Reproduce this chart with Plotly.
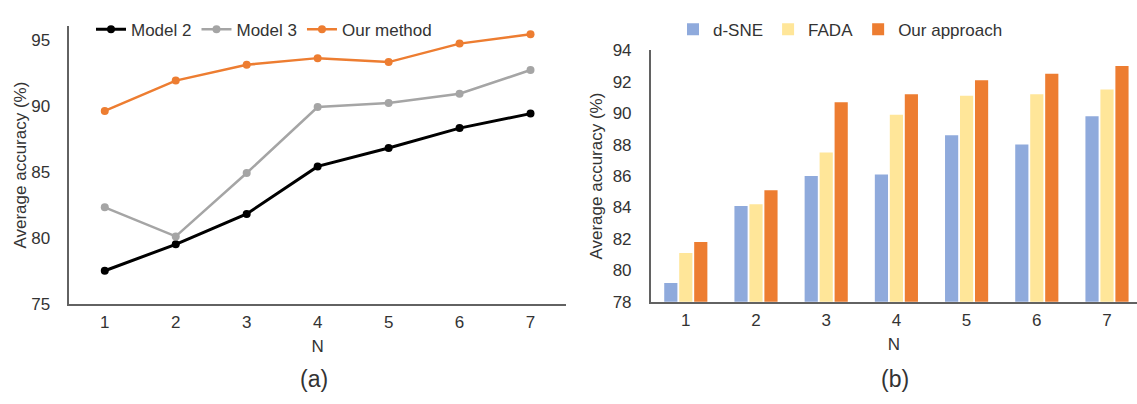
import plotly.graph_objects as go

# ---------- data ----------
N = [1, 2, 3, 4, 5, 6, 7]

model2 = [77.5, 79.5, 81.8, 85.4, 86.8, 88.3, 89.4]
model3 = [82.3, 80.1, 84.9, 89.9, 90.2, 90.9, 92.7]
our_method = [89.6, 91.9, 93.1, 93.6, 93.3, 94.7, 95.4]

dsne = [79.2, 84.1, 86.0, 86.1, 88.6, 88.0, 89.8]
fada = [81.1, 84.2, 87.5, 89.9, 91.1, 91.2, 91.5]
our_approach = [81.8, 85.1, 90.7, 91.2, 92.1, 92.5, 93.0]

left_yticks = [75, 80, 85, 90, 95]
right_yticks = [78, 80, 82, 84, 86, 88, 90, 92, 94]

W, H = 1137, 404
FONT = "Liberation Sans, Arial, sans-serif"
TXT = "#333333"
AX = "#626262"
FS = 17

fig = go.Figure()

# ---------- left: line chart ----------
for name, vals, col, lw in [("Model 2", model2, "#000000", 3),
                            ("Model 3", model3, "#A5A5A5", 2.5),
                            ("Our method", our_method, "#ED7D31", 2.5)]:
    fig.add_trace(go.Scatter(x=N, y=vals, name=name, mode="lines+markers",
                             line=dict(color=col, width=lw),
                             marker=dict(color=col, size=8),
                             xaxis="x", yaxis="y", legend="legend"))

# ---------- right: bar chart ----------
for name, vals, col in [("d-SNE", dsne, "#8FAADC"),
                        ("FADA", fada, "#FFE699"),
                        ("Our approach", our_approach, "#ED7D31")]:
    fig.add_trace(go.Bar(x=N, y=vals, name=name, marker=dict(color=col, line=dict(width=0)),
                         xaxis="x2", yaxis="y2", legend="legend2"))

def px_x(p):
    return p / W

def px_y(p):
    return (H - p) / H

axis_common = dict(showgrid=False, zeroline=False, showline=True, linecolor=AX,
                   linewidth=1.5, ticks="", tickfont=dict(family=FONT, size=FS, color=TXT),
                   title_font=dict(family=FONT, size=FS, color=TXT))

fig.update_layout(
    width=W, height=H,
    margin=dict(l=0, r=0, t=0, b=0),
    paper_bgcolor="white", plot_bgcolor="white",
    font=dict(family=FONT, color=TXT),
    barmode="group", bargap=0.36, bargroupgap=0.12,
    xaxis=dict(domain=[px_x(69.3), px_x(566)], range=[0.5, 7.5], tickmode="array",
               tickvals=N, ticktext=[str(n) for n in N], anchor="y",
               title=dict(text="N", standoff=9.5), ticklabelstandoff=2, **axis_common),
    yaxis=dict(domain=[px_y(309.3), px_y(18.3)], range=[75, 96], tickmode="array",
               tickvals=left_yticks, anchor="x",
               title=dict(text="Average accuracy (%)", standoff=0), ticklabelstandoff=14,
               **axis_common),
    xaxis2=dict(domain=[px_x(650.7), 1.0], range=[0.5, 0.5 + (W - 650.7) / 70.2],
                tickmode="array", tickvals=N, ticktext=[str(n) for n in N], anchor="y2",
                title=dict(text="N", standoff=9.5), ticklabelstandoff=2, **axis_common),
    yaxis2=dict(domain=[px_y(307.3), px_y(43.3)], range=[78, 94], tickmode="array",
                tickvals=right_yticks, anchor="x2",
                title=dict(text="Average accuracy (%)", standoff=6), ticklabelstandoff=14,
                **axis_common),
    legend=dict(orientation="h", x=px_x(91), y=px_y(21.7), xanchor="left", yanchor="middle",
                font=dict(family=FONT, size=FS, color=TXT), itemwidth=30,
                bgcolor="rgba(0,0,0,0)", traceorder="normal", itemclick=False),
    legend2=dict(orientation="h", x=px_x(673), y=px_y(21.7), xanchor="left", yanchor="middle",
                 font=dict(family=FONT, size=FS, color=TXT), itemwidth=30,
                 bgcolor="rgba(0,0,0,0)", traceorder="normal", itemclick=False),
    annotations=[
        dict(text="(a)", x=px_x(314), y=px_y(388), xref="paper", yref="paper",
             xanchor="center", yanchor="middle",
             showarrow=False, font=dict(family=FONT, size=23, color=TXT)),
        dict(text="(b)", x=px_x(895), y=px_y(388), xref="paper", yref="paper",
             xanchor="center", yanchor="middle",
             showarrow=False, font=dict(family=FONT, size=23, color=TXT)),
    ],
)

fig.write_html("out.html")
